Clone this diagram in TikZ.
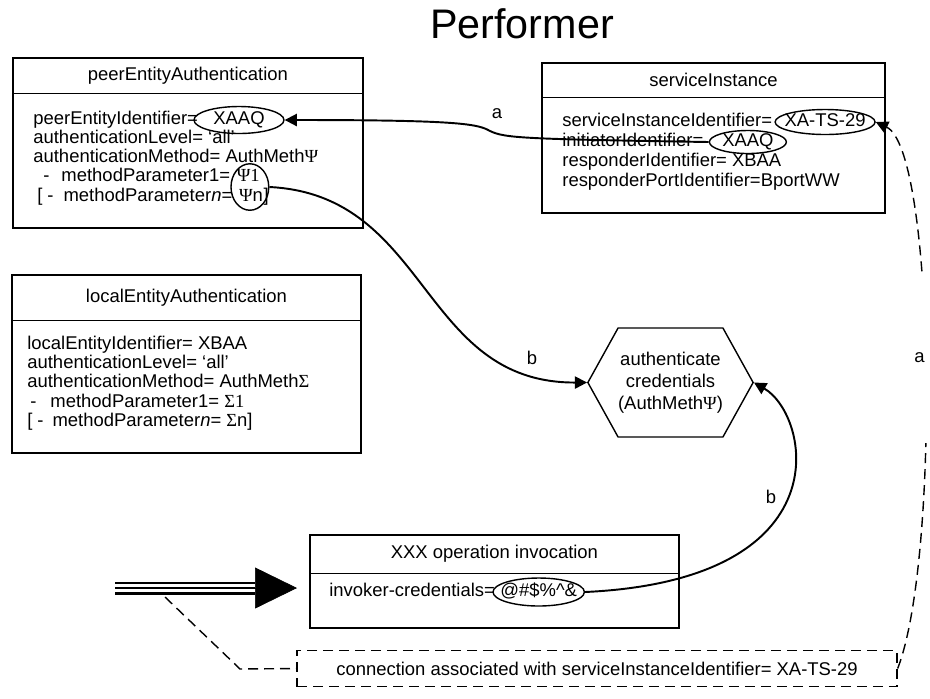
\documentclass[tikz,border=0pt]{standalone}
\usepackage{fontspec}
\setmainfont{Liberation Sans}
\newfontfamily\grk{Liberation Serif}
\usepackage{tikz}
\usetikzlibrary{positioning,arrows.meta,fit,shapes.geometric,shapes.symbols}
\newcommand{\figfont}{\fontsize{10.5pt}{11.1pt}\selectfont}

\begin{document}
\begin{tikzpicture}[x=0.02cm,y=-0.02cm,every node/.style={font=\figfont},>={Triangle[length=7pt,width=7pt]},
  hdr/.style={draw,line width=0.5pt,inner sep=0pt,outer sep=0pt,anchor=north west},
  bdy/.style={inner sep=0pt,outer sep=0pt},
  frame/.style={draw,line width=1.2pt,inner sep=0pt},
  ln/.style={inner sep=0pt,anchor=west,text height=0.72em,text depth=0.2em},
  oval/.style={draw,ellipse,inner xsep=-0.12cm,inner ysep=0pt,line width=0.8pt,text height=0.72em,text depth=0.2em},
  hexa/.style={draw,line width=0.8pt,signal,signal to=east and west,signal pointer angle=122,
    minimum width=2.88cm,minimum height=2.18cm,inner sep=0pt,align=center,font=\fontsize{10.5pt}{12.5pt}\selectfont},
  link/.style={->,line width=1.1pt},
  dlink/.style={line width=0.8pt,dash pattern=on 0.2cm off 0.12cm}]
  \path[use as bounding box,fill=white] (0,0) rectangle (930,698);

  \node[font=\fontsize{23.5pt}{28pt}\selectfont] (ttl) at (522,24) {Performer};

  % peer entity
  \node[hdr,minimum width=7cm,minimum height=0.7cm] (peerH) at (13,58) {peerEntityAuthentication};
  \node[bdy,minimum width=7cm,minimum height=2.7cm,below=0pt of peerH] (peerB) {};
  \node[frame,fit=(peerH)(peerB)] (peer) {};
  \node[ln] (p1) at (33,120) {peerEntityIdentifier=};
  \node[oval,right=-0.1cm of p1,minimum width=1.8cm,minimum height=0.54cm] (pXAAQ) {XAAQ};
  \node[ln] (p2) at (33,139) {authenticationLevel= `all'};
  \node[ln] (p3) at (33,158) {authenticationMethod= AuthMeth{\grk Ψ}};
  \node[ln] (p4) at (33,177) {\hspace{0.2cm}-\hspace{0.24cm}methodParameter1=};
  \node[ln,right=0.12cm of p4] (pPsi1) {\grk Ψ1};
  \node[ln] (p5) at (33,197) {\hspace{0.08cm}[\hspace{0.1cm}-\hspace{0.2cm}methodParameter\textit{n}=};
  \node[ln,right=0.12cm of p5] (pPsin) {{\grk Ψ}n};
  \node[ln,right=0pt of pPsin] (pBr) {]};
  \node[draw,ellipse,line width=0.8pt,inner xsep=0pt,inner ysep=-0.04cm,fit=(pPsi1)(pPsin)] (pPsi) {};

  % local entity
  \node[hdr,minimum width=6.98cm,minimum height=0.9cm] (locH) at (12,275) {localEntityAuthentication};
  \node[bdy,minimum width=6.98cm,minimum height=2.66cm,below=0pt of locH] (locB) {};
  \node[frame,fit=(locH)(locB)] (loc) {};
  \node[ln] (l1) at (27,345) {localEntityIdentifier= XBAA};
  \node[ln] (l2) at (27,364) {authenticationLevel= `all'};
  \node[ln] (l3) at (27,383) {authenticationMethod= AuthMeth{\grk Σ}};
  \node[ln] (l4) at (27,403) {\hspace{0.06cm}-\hspace{0.28cm}methodParameter1= {\grk Σ1}};
  \node[ln] (l5) at (27,422) {[\hspace{0.1cm}-\hspace{0.18cm}methodParameter\textit{n}= {\grk Σ}n]};

  % service instance
  \node[hdr,minimum width=6.86cm,minimum height=0.68cm] (svcH) at (542,63) {serviceInstance};
  \node[bdy,minimum width=6.86cm,minimum height=2.32cm,below=0pt of svcH] (svcB) {};
  \node[frame,fit=(svcH)(svcB)] (svc) {};
  \node[ln] (s1) at (562,122) {serviceInstanceIdentifier=};
  \node[oval,right=0.04cm of s1,minimum width=2cm,minimum height=0.5cm] (sXATS) {XA-TS-29};
  \node[ln] (s2) at (562,142) {initiatorIdentifier=};
  \node[oval,right=0.1cm of s2,minimum width=1.54cm,minimum height=0.46cm] (sXAAQ) {XAAQ};
  \node[ln] (s3) at (562,162) {responderIdentifier= XBAA};
  \node[ln] (s4) at (562,182) {responderPortIdentifier=BportWW};

  % operation invocation
  \node[hdr,minimum width=7.38cm,minimum height=0.76cm] (invH) at (310,535) {XXX operation invocation};
  \node[bdy,minimum width=7.38cm,minimum height=1.1cm,below=0pt of invH] (invB) {};
  \node[frame,fit=(invH)(invB)] (inv) {};
  \node[ln] (i1) at (329,592) {invoker-credentials=};
  \node[oval,right=-0.06cm of i1,minimum width=1.8cm,minimum height=0.56cm] (iCred) {@\#\$\%\textasciicircum\&};

  \node[hexa] (hex) at (670.5,382.5) {authenticate\\credentials\\(AuthMeth{\grk Ψ})};

  \node[draw,line width=0.8pt,dash pattern=on 0.2cm off 0.12cm,minimum width=12cm,minimum height=0.72cm,inner sep=0pt] (conn)
    at (597,668.5) {connection associated with serviceInstanceIdentifier= XA-TS-29};

  % incoming invocation
  \coordinate (inA) at (115,588);
  \coordinate (inB) at (255,588);
  \coordinate (inC) at (297,588);
  \draw[line width=0.26cm] (inA) -- (inB);
  \draw[white,line width=0.16cm] (inA) -- (inB);
  \draw[line width=0.052cm] (inA) -- (inB);
  \draw[-{Triangle[length=0.84cm,width=0.82cm]}] (inB) -- (inC);
  \coordinate (tap) at (165,597);
  \coordinate (tapK) at (240,669);
  \draw[dlink] (tap) -- (tapK) -- (conn.west);

  % links
  \draw[link] (sXAAQ.west) .. controls (520,139) and (505,138) .. (490,131)
    .. controls (478,124) and (460,120) .. (pXAAQ.east);
  \node (la1) at (497,114) {a};
  \draw[link] (pPsi.east) .. controls (430,195) and (420,383) .. (hex.west);
  \node (lb1) at (532,358) {b};
  \draw[link] (iCred.east) .. controls (845,580) and (810,415) .. (hex.east);
  \node (lb2) at (771,497) {b};
  \draw[dlink,->] (conn.east) .. controls (940,560) and (935,150) .. (sXATS.east)
    node[pos=0.51,xshift=-0.1cm,fill=white,minimum width=0.5cm,minimum height=3.4cm,inner sep=1pt] (la2) {a};
\end{tikzpicture}
\end{document}
